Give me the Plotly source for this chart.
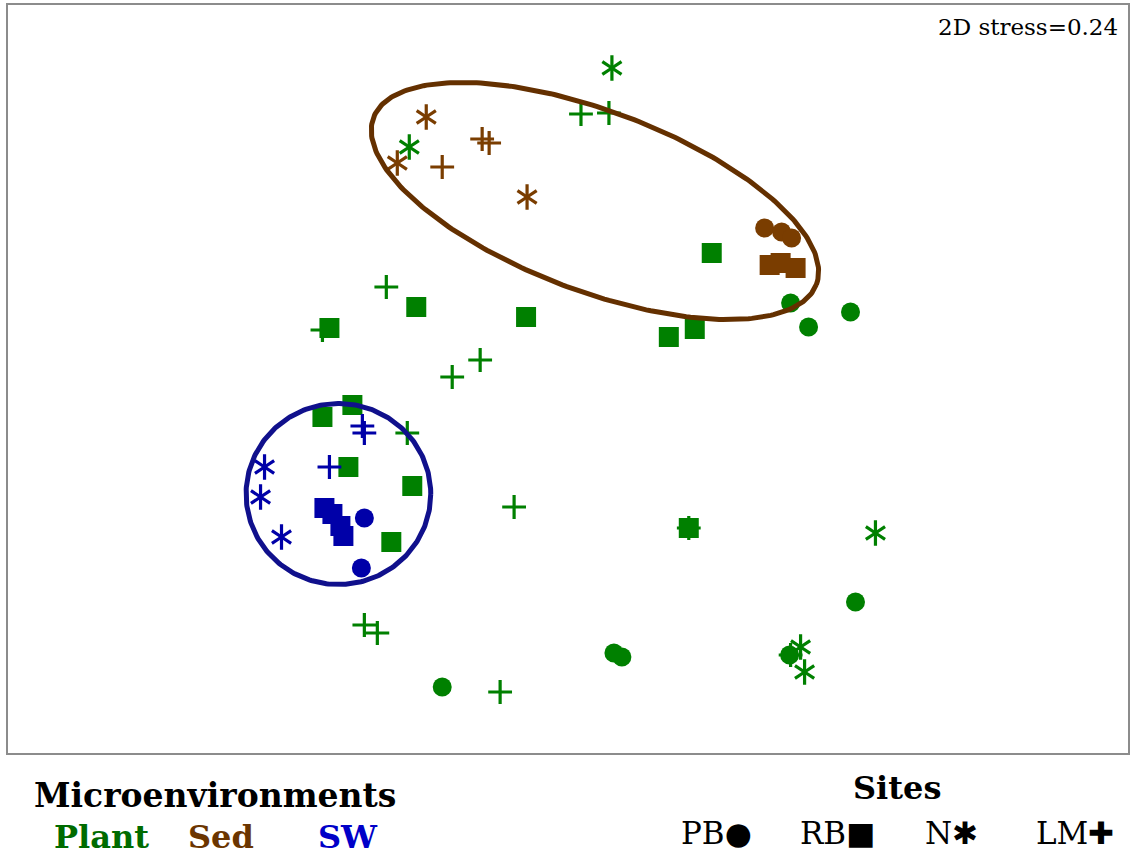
import numpy as np
import plotly.graph_objects as go

# ---- data (NMDS positions, screen-like units) ----
plant_pb_x = [792, 810, 852, 857, 615, 623, 443, 690, 791]
plant_pb_y = [303, 327, 312, 602, 653, 657, 687, 528, 655]
plant_rb_x = [713, 696, 670, 527, 417, 330, 353, 323, 349, 413, 392, 690]
plant_rb_y = [253, 329, 337, 317, 307, 328, 405, 417, 467, 486, 542, 528]
plant_n_x = [613, 410, 877, 802, 806]
plant_n_y = [68, 147, 533, 647, 672]
plant_lm_x = [387, 323, 453, 481, 408, 515, 365, 378, 501, 582, 610, 690, 792]
plant_lm_y = [287, 330, 377, 360, 433, 507, 625, 633, 692, 114, 113, 528, 655]

sed_pb_x = [766, 783, 793]
sed_pb_y = [228, 232, 238]
sed_rb_x = [771, 782, 797]
sed_rb_y = [265, 263, 268]
sed_n_x = [427, 398, 528]
sed_n_y = [117, 163, 197]
sed_lm_x = [443, 483, 490]
sed_lm_y = [167, 139, 143]

sw_pb_x = [365, 362]
sw_pb_y = [518, 568]
sw_rb_x = [325, 333, 341, 344]
sw_rb_y = [508, 514, 526, 536]
sw_n_x = [265, 261, 282]
sw_n_y = [467, 497, 537]
sw_lm_x = [363, 365, 330]
sw_lm_y = [426, 433, 467]

groups = ["Plant", "Sed", "SW"]
stress_label = "2D stress=0.24"
site_labels = ["PB", "RB", "N", "LM"]

# ellipse parameters (center x, center y, semi-major, semi-minor, angle deg)
sed_ellipse = (596, 201, 237, 90, 20.6)
sw_ellipse = (339, 494, 92.5, 90.5, 0.0)

GREEN = "#008000"
BROWN = "#7a3d00"
BLUE = "#0000a8"

X0, X1, Y0, Y1 = 8, 1130, 5, 753

fig = go.Figure()


def add_group(px, py, rx, ry, nx, ny, lx, ly, color):
    fig.add_trace(go.Scatter(x=px, y=py, mode="markers",
                             marker=dict(symbol="circle", size=19, color=color, line=dict(width=0))))
    fig.add_trace(go.Scatter(x=rx, y=ry, mode="markers",
                             marker=dict(symbol="square", size=20, color=color, line=dict(width=0))))
    for sym in ["y-up-open", "y-down-open"]:
        fig.add_trace(go.Scatter(x=nx, y=ny, mode="markers",
                                 marker=dict(symbol=sym, size=16, color=color,
                                             line=dict(width=3.2, color=color))))
    fig.add_trace(go.Scatter(x=lx, y=ly, mode="markers",
                             marker=dict(symbol="cross-thin-open", size=17, color=color,
                                         line=dict(width=3.2, color=color))))


add_group(plant_pb_x, plant_pb_y, plant_rb_x, plant_rb_y, plant_n_x, plant_n_y,
          plant_lm_x, plant_lm_y, GREEN)
add_group(sed_pb_x, sed_pb_y, sed_rb_x, sed_rb_y, sed_n_x, sed_n_y,
          sed_lm_x, sed_lm_y, BROWN)
add_group(sw_pb_x, sw_pb_y, sw_rb_x, sw_rb_y, sw_n_x, sw_n_y,
          sw_lm_x, sw_lm_y, BLUE)


def ellipse(params):
    cx, cy, a, b, ang = params
    t = np.linspace(0, 2 * np.pi, 300)
    th = np.deg2rad(ang)
    ex = cx + a * np.cos(t) * np.cos(th) - b * np.sin(t) * np.sin(th)
    ey = cy + a * np.cos(t) * np.sin(th) + b * np.sin(t) * np.cos(th)
    return ex, ey


ex, ey = ellipse(sed_ellipse)
fig.add_trace(go.Scatter(x=ex, y=ey, mode="lines", line=dict(color="#643000", width=5)))
ex, ey = ellipse(sw_ellipse)
fig.add_trace(go.Scatter(x=ex, y=ey, mode="lines", line=dict(color="#10108c", width=5)))


def pp(px, py):
    return (px - X0) / (X1 - X0), (Y1 - py) / (Y1 - Y0)


anns = []


def ann(text, px, py, size, color="black", bold=False, xanchor="center", family="DejaVu Serif"):
    x, y = pp(px, py)
    if bold:
        text = "<b>" + text + "</b>"
    anns.append(dict(text=text, x=x, y=y, xref="paper", yref="paper", showarrow=False,
                     xanchor=xanchor, yanchor="middle",
                     font=dict(family=family, size=size, color=color)))


ann(stress_label, 1122, 27, 23, xanchor="right")
ann("Microenvironments", 215, 795, 33, bold=True)
ann(groups[0], 102, 837, 32, color="#006b00", bold=True)
ann(groups[1], 221, 837, 32, color="#6b3500", bold=True)
ann(groups[2], 349, 837, 32, color="#0000c8", bold=True)
ann("Sites", 899, 788, 32, bold=True)
ann(site_labels[0] + "●", 718, 833, 31)
ann(site_labels[1] + "■", 839, 833, 31)
ann(site_labels[2] + "✱", 953, 833, 31)
ann(site_labels[3] + "✚", 1077, 833, 31)

fig.update_layout(
    width=1133, height=858,
    margin=dict(l=X0, r=1133 - X1, t=Y0, b=858 - Y1),
    paper_bgcolor="white", plot_bgcolor="white",
    showlegend=False,
    annotations=anns,
    xaxis=dict(range=[X0, X1], showgrid=False, zeroline=False, showticklabels=False,
               ticks="", showline=True, mirror=True, linecolor="#8c8c8c", linewidth=2),
    yaxis=dict(range=[Y1, Y0], showgrid=False, zeroline=False, showticklabels=False,
               ticks="", showline=True, mirror=True, linecolor="#8c8c8c", linewidth=2),
)

fig.write_html("out.html")
